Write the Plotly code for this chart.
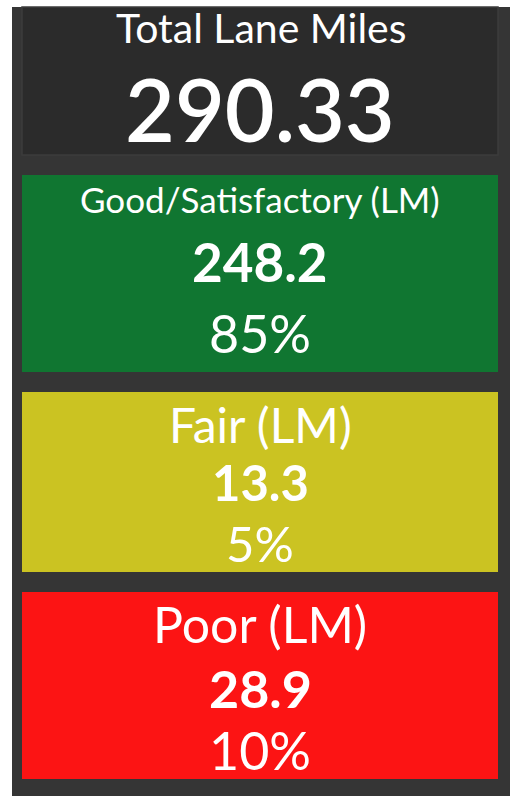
import plotly.graph_objects as go

# Data
total_label = "Total Lane Miles"
total_lane_miles = 290.33
categories = ["Good/Satisfactory (LM)", "Fair (LM)", "Poor (LM)"]
lane_miles = [248.2, 13.3, 28.9]
percents = [85, 5, 10]

# Style
FONT = "Lato, 'Noto Sans', sans-serif"
COLORS = {
    'panel': '#353535',
    'card': '#2b2b2b',
    'card_border': '#3c3c3c',
    'cards': ['#107631', '#cbc322', '#fc1414'],
    'text': '#ffffff',
}

W, H = 510, 801
PANEL = dict(x0=12, x1=510, y0=7, y1=796)
CARD_X = (22, 498)
TOTAL_BOX = (7, 155)
# (top, bottom) for each category card
CARD_Y = [(175, 372), (392, 572), (592, 779)]
# centre lines for label / value / percent inside each card
TEXT_Y = [(199, 261, 333), (424, 482, 543), (624, 688, 750)]
TEXT_SIZE = [(35, 53, 52), (48, 49, 49), (50, 52, 52)]

fig = go.Figure()

shapes = [dict(type='rect', xref='x', yref='y', layer='below',
               x0=PANEL['x0'], x1=PANEL['x1'], y0=PANEL['y0'], y1=PANEL['y1'],
               fillcolor=COLORS['panel'], line=dict(width=0)),
          dict(type='rect', xref='x', yref='y', layer='below',
               x0=CARD_X[0], x1=CARD_X[1], y0=TOTAL_BOX[0], y1=TOTAL_BOX[1],
               fillcolor=COLORS['card'], line=dict(color=COLORS['card_border'], width=1.5))]

annotations = [
    dict(text=total_label, x=261, y=27, font=dict(size=41)),
    dict(text=f"{total_lane_miles:.2f}", x=260, y=108, font=dict(size=86, weight=600)),
]

for i, cat in enumerate(categories):
    y0, y1 = CARD_Y[i]
    shapes.append(dict(type='rect', xref='x', yref='y', layer='below',
                       x0=CARD_X[0], x1=CARD_X[1], y0=y0, y1=y1,
                       fillcolor=COLORS['cards'][i], line=dict(width=0)))
    ty = TEXT_Y[i]
    ts = TEXT_SIZE[i]
    annotations.append(dict(text=cat, x=260, y=ty[0], font=dict(size=ts[0])))
    annotations.append(dict(text=f"{lane_miles[i]:.1f}", x=260, y=ty[1],
                            font=dict(size=ts[1], weight='bold')))
    annotations.append(dict(text=f"{percents[i]}%", x=260, y=ty[2], font=dict(size=ts[2])))

for a in annotations:
    a.update(xref='x', yref='y', showarrow=False, xanchor='center', yanchor='middle')
    a['font'].update(family=FONT, color=COLORS['text'])

# invisible trace so the axes exist
fig.add_trace(go.Scatter(x=[0, W], y=[0, H], mode='markers',
                         marker=dict(opacity=0), hoverinfo='skip', showlegend=False))

fig.update_layout(
    width=W, height=H,
    margin=dict(l=0, r=0, t=0, b=0),
    paper_bgcolor='white', plot_bgcolor='white',
    shapes=shapes, annotations=annotations,
    xaxis=dict(range=[0, W], visible=False, fixedrange=True),
    yaxis=dict(range=[H, 0], visible=False, fixedrange=True),
    showlegend=False,
)

# drop the default body margin so the figure sits at the page origin
fig.write_html("out.html", config={'displayModeBar': False},
               post_script="document.body.style.margin='0';")
